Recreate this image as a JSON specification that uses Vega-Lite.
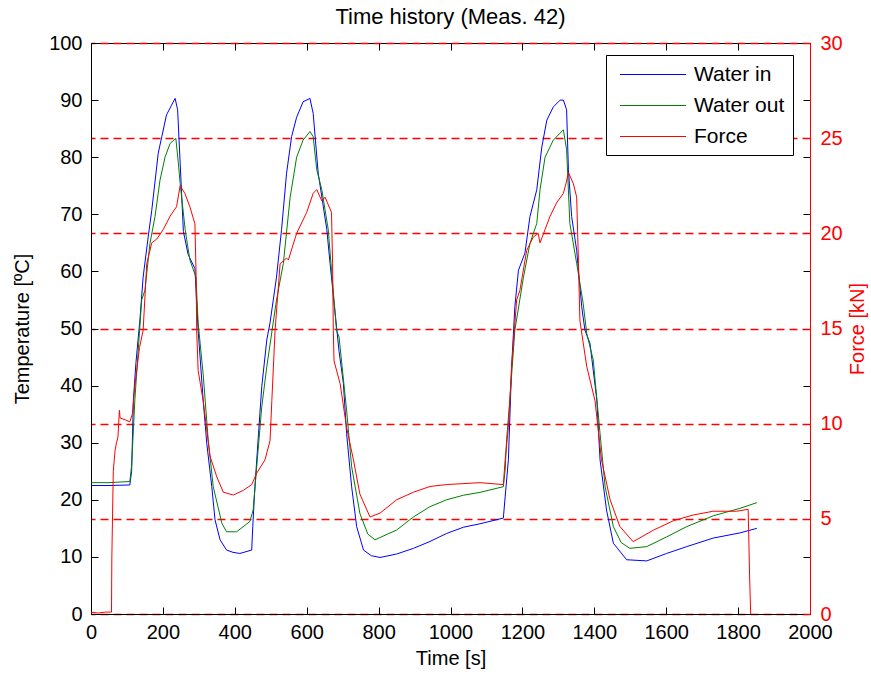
{
  "$schema": "https://vega.github.io/schema/vega-lite/v6.json",
  "width": 719,
  "height": 571,
  "autosize": "none",
  "padding": {"left": 91, "top": 43, "right": 61, "bottom": 61},
  "background": "white",
  "config": {
    "font": "Liberation Sans",
    "view": {"stroke": "black", "strokeWidth": 1},
    "axis": {"labelFont": "Liberation Sans", "titleFont": "Liberation Sans", "titleFontWeight": "normal", "labelFontSize": 20, "titleFontSize": 20, "labelFlush": false, "labelOverlap": false}
  },
  "title": {"text": "Time history (Meas. 42)", "fontSize": 22, "fontWeight": "normal", "font": "Liberation Sans", "color": "black", "frame": "group", "offset": 4},
  "datasets": {
    "temps": [
      {"series":"Water in","t":0,"v":22.5},{"series":"Water in","t":50,"v":22.5},{"series":"Water in","t":108,"v":22.6},{"series":"Water in","t":113,"v":25},{"series":"Water in","t":118,"v":37.5},{"series":"Water in","t":125,"v":44},{"series":"Water in","t":136,"v":51.5},{"series":"Water in","t":145,"v":59},{"series":"Water in","t":159,"v":66},{"series":"Water in","t":169,"v":70.7},{"series":"Water in","t":187,"v":80.7},{"series":"Water in","t":197,"v":83.6},{"series":"Water in","t":210,"v":87.4},{"series":"Water in","t":224,"v":89.1},{"series":"Water in","t":234,"v":90.3},{"series":"Water in","t":241,"v":88.3},{"series":"Water in","t":248,"v":79},{"series":"Water in","t":257,"v":67},{"series":"Water in","t":270,"v":63},{"series":"Water in","t":289,"v":60.5},{"series":"Water in","t":298,"v":49.7},{"series":"Water in","t":312,"v":37.5},{"series":"Water in","t":322,"v":29.9},{"series":"Water in","t":336,"v":22.3},{"series":"Water in","t":345,"v":16.5},{"series":"Water in","t":359,"v":13},{"series":"Water in","t":377,"v":11.2},{"series":"Water in","t":395,"v":10.8},{"series":"Water in","t":414,"v":10.6},{"series":"Water in","t":447,"v":11.2},{"series":"Water in","t":450,"v":15.3},{"series":"Water in","t":456,"v":22.3},{"series":"Water in","t":466,"v":31.6},{"series":"Water in","t":475,"v":39.8},{"series":"Water in","t":489,"v":48},{"series":"Water in","t":498,"v":51},{"series":"Water in","t":507,"v":55},{"series":"Water in","t":516,"v":59},{"series":"Water in","t":530,"v":67.3},{"series":"Water in","t":544,"v":77.2},{"series":"Water in","t":558,"v":83.6},{"series":"Water in","t":572,"v":87},{"series":"Water in","t":590,"v":89.7},{"series":"Water in","t":609,"v":90.3},{"series":"Water in","t":618,"v":87.7},{"series":"Water in","t":632,"v":77.2},{"series":"Water in","t":656,"v":67.3},{"series":"Water in","t":665,"v":61.4},{"series":"Water in","t":679,"v":52.7},{"series":"Water in","t":690,"v":46},{"series":"Water in","t":702,"v":40.4},{"series":"Water in","t":711,"v":31.6},{"series":"Water in","t":725,"v":22.3},{"series":"Water in","t":739,"v":15.3},{"series":"Water in","t":758,"v":11.2},{"series":"Water in","t":780,"v":10.2},{"series":"Water in","t":804,"v":9.9},{"series":"Water in","t":850,"v":10.5},{"series":"Water in","t":897,"v":11.5},{"series":"Water in","t":943,"v":12.7},{"series":"Water in","t":989,"v":14.1},{"series":"Water in","t":1036,"v":15.2},{"series":"Water in","t":1082,"v":15.8},{"series":"Water in","t":1147,"v":16.8},{"series":"Water in","t":1152,"v":20.5},{"series":"Water in","t":1161,"v":27},{"series":"Water in","t":1170,"v":43.3},{"series":"Water in","t":1179,"v":53.8},{"series":"Water in","t":1189,"v":60.2},{"series":"Water in","t":1207,"v":63.2},{"series":"Water in","t":1221,"v":69.6},{"series":"Water in","t":1240,"v":74.3},{"series":"Water in","t":1254,"v":81.8},{"series":"Water in","t":1268,"v":86.5},{"series":"Water in","t":1286,"v":88.8},{"series":"Water in","t":1305,"v":90},{"series":"Water in","t":1314,"v":90},{"series":"Water in","t":1323,"v":88.3},{"series":"Water in","t":1328,"v":77.8},{"series":"Water in","t":1337,"v":69.6},{"series":"Water in","t":1351,"v":63.7},{"series":"Water in","t":1365,"v":53.8},{"series":"Water in","t":1374,"v":49.7},{"series":"Water in","t":1388,"v":47.4},{"series":"Water in","t":1407,"v":37.5},{"series":"Water in","t":1416,"v":27},{"series":"Water in","t":1434,"v":18.2},{"series":"Water in","t":1453,"v":12.4},{"series":"Water in","t":1490,"v":9.5},{"series":"Water in","t":1546,"v":9.3},{"series":"Water in","t":1601,"v":10.6},{"series":"Water in","t":1657,"v":11.8},{"series":"Water in","t":1731,"v":13.3},{"series":"Water in","t":1805,"v":14.2},{"series":"Water in","t":1852,"v":15},
      {"series":"Water out","t":0,"v":23},{"series":"Water out","t":50,"v":23},{"series":"Water out","t":108,"v":23.2},{"series":"Water out","t":113,"v":26},{"series":"Water out","t":122,"v":37.5},{"series":"Water out","t":130,"v":45},{"series":"Water out","t":141,"v":55},{"series":"Water out","t":150,"v":56.7},{"series":"Water out","t":164,"v":64.9},{"series":"Water out","t":178,"v":69.6},{"series":"Water out","t":192,"v":76},{"series":"Water out","t":206,"v":80},{"series":"Water out","t":220,"v":82.4},{"series":"Water out","t":236,"v":83.3},{"series":"Water out","t":243,"v":79},{"series":"Water out","t":248,"v":75.4},{"series":"Water out","t":262,"v":67.3},{"series":"Water out","t":275,"v":62},{"series":"Water out","t":292,"v":59},{"series":"Water out","t":298,"v":51},{"series":"Water out","t":312,"v":42},{"series":"Water out","t":326,"v":30.5},{"series":"Water out","t":340,"v":22.3},{"series":"Water out","t":364,"v":15.9},{"series":"Water out","t":377,"v":14.4},{"series":"Water out","t":405,"v":14.4},{"series":"Water out","t":442,"v":16.2},{"series":"Water out","t":451,"v":18.2},{"series":"Water out","t":461,"v":25.8},{"series":"Water out","t":475,"v":36.3},{"series":"Water out","t":489,"v":43.3},{"series":"Water out","t":516,"v":55},{"series":"Water out","t":535,"v":61.4},{"series":"Water out","t":554,"v":73},{"series":"Water out","t":572,"v":80},{"series":"Water out","t":590,"v":83},{"series":"Water out","t":609,"v":84.5},{"series":"Water out","t":618,"v":83.6},{"series":"Water out","t":628,"v":77.8},{"series":"Water out","t":642,"v":74.3},{"series":"Water out","t":660,"v":67.3},{"series":"Water out","t":669,"v":60.2},{"series":"Water out","t":683,"v":49.7},{"series":"Water out","t":690,"v":48.5},{"series":"Water out","t":711,"v":35.7},{"series":"Water out","t":725,"v":25.8},{"series":"Water out","t":748,"v":17.6},{"series":"Water out","t":770,"v":14},{"series":"Water out","t":790,"v":13},{"series":"Water out","t":850,"v":14.7},{"series":"Water out","t":897,"v":17},{"series":"Water out","t":943,"v":18.8},{"series":"Water out","t":989,"v":20},{"series":"Water out","t":1036,"v":20.8},{"series":"Water out","t":1082,"v":21.3},{"series":"Water out","t":1147,"v":22.3},{"series":"Water out","t":1152,"v":25.2},{"series":"Water out","t":1156,"v":30.5},{"series":"Water out","t":1165,"v":37.5},{"series":"Water out","t":1179,"v":49.7},{"series":"Water out","t":1203,"v":59},{"series":"Water out","t":1221,"v":64.9},{"series":"Water out","t":1240,"v":68.4},{"series":"Water out","t":1249,"v":74.3},{"series":"Water out","t":1263,"v":80},{"series":"Water out","t":1286,"v":83},{"series":"Water out","t":1314,"v":84.8},{"series":"Water out","t":1323,"v":81.3},{"series":"Water out","t":1332,"v":68.4},{"series":"Water out","t":1351,"v":61.4},{"series":"Water out","t":1369,"v":54.4},{"series":"Water out","t":1379,"v":49.1},{"series":"Water out","t":1397,"v":44.5},{"series":"Water out","t":1416,"v":31.6},{"series":"Water out","t":1430,"v":22.3},{"series":"Water out","t":1453,"v":15.3},{"series":"Water out","t":1475,"v":12.5},{"series":"Water out","t":1499,"v":11.5},{"series":"Water out","t":1546,"v":11.8},{"series":"Water out","t":1601,"v":13.5},{"series":"Water out","t":1657,"v":15.3},{"series":"Water out","t":1731,"v":17.2},{"series":"Water out","t":1805,"v":18.5},{"series":"Water out","t":1852,"v":19.5}
    ],
    "force": [
      {"series":"Force","t":0,"v":0.1},{"series":"Force","t":20,"v":0.05},{"series":"Force","t":40,"v":0.1},{"series":"Force","t":57,"v":0.1},{"series":"Force","t":58,"v":3},{"series":"Force","t":62,"v":7.5},{"series":"Force","t":67,"v":8.6},{"series":"Force","t":71,"v":9},{"series":"Force","t":75,"v":9.3},{"series":"Force","t":79,"v":10.7},{"series":"Force","t":81,"v":10.3},{"series":"Force","t":95,"v":10.2},{"series":"Force","t":108,"v":10.1},{"series":"Force","t":115,"v":10.5},{"series":"Force","t":122,"v":12},{"series":"Force","t":135,"v":14},{"series":"Force","t":145,"v":14.9},{"series":"Force","t":155,"v":18.4},{"series":"Force","t":169,"v":19.5},{"series":"Force","t":183,"v":19.7},{"series":"Force","t":201,"v":20.2},{"series":"Force","t":220,"v":20.9},{"series":"Force","t":238,"v":21.4},{"series":"Force","t":248,"v":22.5},{"series":"Force","t":261,"v":22.1},{"series":"Force","t":275,"v":21.4},{"series":"Force","t":289,"v":20.5},{"series":"Force","t":292,"v":18.1},{"series":"Force","t":294,"v":14.9},{"series":"Force","t":298,"v":12.8},{"series":"Force","t":312,"v":11.2},{"series":"Force","t":331,"v":8.3},{"series":"Force","t":350,"v":7.2},{"series":"Force","t":368,"v":6.4},{"series":"Force","t":396,"v":6.25},{"series":"Force","t":424,"v":6.5},{"series":"Force","t":447,"v":6.8},{"series":"Force","t":461,"v":7.4},{"series":"Force","t":484,"v":8.1},{"series":"Force","t":498,"v":9.1},{"series":"Force","t":503,"v":11.2},{"series":"Force","t":512,"v":14.9},{"series":"Force","t":526,"v":18.4},{"series":"Force","t":544,"v":18.7},{"series":"Force","t":549,"v":18.6},{"series":"Force","t":572,"v":20},{"series":"Force","t":600,"v":21.1},{"series":"Force","t":618,"v":22.1},{"series":"Force","t":628,"v":22.3},{"series":"Force","t":642,"v":21.7},{"series":"Force","t":651,"v":21.9},{"series":"Force","t":669,"v":21.1},{"series":"Force","t":672,"v":18.4},{"series":"Force","t":674,"v":14.9},{"series":"Force","t":676,"v":13.3},{"series":"Force","t":693,"v":12.1},{"series":"Force","t":711,"v":9.8},{"series":"Force","t":730,"v":8.1},{"series":"Force","t":748,"v":6.3},{"series":"Force","t":776,"v":5.1},{"series":"Force","t":790,"v":5.2},{"series":"Force","t":804,"v":5.3},{"series":"Force","t":850,"v":6.0},{"series":"Force","t":897,"v":6.4},{"series":"Force","t":943,"v":6.7},{"series":"Force","t":989,"v":6.8},{"series":"Force","t":1082,"v":6.9},{"series":"Force","t":1147,"v":6.8},{"series":"Force","t":1152,"v":8.1},{"series":"Force","t":1161,"v":9.8},{"series":"Force","t":1170,"v":13},{"series":"Force","t":1184,"v":16.5},{"series":"Force","t":1193,"v":17},{"series":"Force","t":1212,"v":19.1},{"series":"Force","t":1230,"v":19.8},{"series":"Force","t":1244,"v":20},{"series":"Force","t":1249,"v":19.5},{"series":"Force","t":1263,"v":20.2},{"series":"Force","t":1277,"v":20.9},{"series":"Force","t":1295,"v":21.6},{"series":"Force","t":1314,"v":22.1},{"series":"Force","t":1321,"v":22.6},{"series":"Force","t":1328,"v":23.2},{"series":"Force","t":1342,"v":22.6},{"series":"Force","t":1351,"v":21.9},{"series":"Force","t":1356,"v":18.4},{"series":"Force","t":1360,"v":15.4},{"series":"Force","t":1379,"v":13},{"series":"Force","t":1402,"v":11.2},{"series":"Force","t":1420,"v":8.1},{"series":"Force","t":1444,"v":6.0},{"series":"Force","t":1471,"v":4.6},{"series":"Force","t":1508,"v":3.8},{"series":"Force","t":1564,"v":4.4},{"series":"Force","t":1620,"v":4.9},{"series":"Force","t":1675,"v":5.2},{"series":"Force","t":1731,"v":5.4},{"series":"Force","t":1796,"v":5.4},{"series":"Force","t":1828,"v":5.5},{"series":"Force","t":1832,"v":2},{"series":"Force","t":1835,"v":0}
    ]
  },
  "layer": [
    {
      "data": {"name": "temps"},
      "mark": {"type": "line", "strokeWidth": 1, "strokeOpacity": 0},
      "encoding": {
        "x": {"field": "t", "type": "quantitative", "scale": {"domain": [0, 2000], "nice": false, "zero": false},
              "axis": {"orient": "top", "title": null, "labels": false, "domain": false, "grid": false, "values": [0,200,400,600,800,1000,1200,1400,1600,1800,2000], "tickSize": -7, "tickColor": "black"}},
        "y": {"field": "v", "type": "quantitative", "scale": {"domain": [0, 100], "nice": false},
              "axis": {"orient": "right", "title": null, "labels": false, "domain": false, "grid": false, "values": [0,10,20,30,40,50,60,70,80,90,100], "tickSize": -7, "tickColor": "black"}},
        "detail": {"field": "series"}
      }
    },
    {
      "data": {"name": "temps"},
      "mark": {"type": "line", "strokeWidth": 1},
      "encoding": {
        "x": {"field": "t", "type": "quantitative", "scale": {"domain": [0, 2000], "nice": false, "zero": false},
              "axis": {"orient": "bottom", "title": "Time [s]", "format": "d", "values": [0,200,400,600,800,1000,1200,1400,1600,1800,2000], "grid": false, "domainColor": "black", "tickColor": "black", "labelColor": "black", "titleColor": "black", "tickSize": -7, "labelPadding": 15, "titlePadding": 6}},
        "y": {"field": "v", "type": "quantitative", "scale": {"domain": [0, 100], "nice": false},
              "axis": {"orient": "left", "title": "Temperature [ºC]", "format": "d", "values": [0,10,20,30,40,50,60,70,80,90,100], "grid": false, "domainColor": "black", "tickColor": "black", "labelColor": "black", "titleColor": "black", "tickSize": -7, "labelPadding": 16, "titlePadding": 16}},
        "color": {"field": "series", "type": "nominal",
                  "scale": {"domain": ["Water in", "Water out", "Force"], "range": ["#0000ff", "#008000", "#ff0000"]},
                  "legend": {"orient": "none", "legendX": 515, "legendY": 12, "title": null, "symbolType": "M-0.5,0H5.5", "symbolSize": 484, "symbolStrokeWidth": 1, "labelFontSize": 21, "labelFont": "Liberation Sans", "labelColor": "black", "labelOffset": 57, "padding": 8, "rowPadding": 9, "strokeColor": "black", "fillColor": "white", "labelLimit": 300}}
      }
    },
    {
      "data": {"name": "force"},
      "mark": {"type": "line", "strokeWidth": 1},
      "encoding": {
        "x": {"field": "t", "type": "quantitative", "scale": {"domain": [0, 2000], "nice": false, "zero": false}, "axis": null},
        "y": {"field": "v", "type": "quantitative", "scale": {"domain": [0, 30], "nice": false},
              "axis": {"orient": "right", "title": "Force [kN]", "titleAngle": 270, "format": "d", "values": [0,5,10,15,20,25,30], "grid": true, "gridColor": "#ff0000", "gridDash": [8, 5], "gridOpacity": 1, "gridWidth": 1.3, "domainColor": "#ff0000", "tickColor": "#ff0000", "labelColor": "#ff0000", "titleColor": "#ff0000", "tickSize": -7, "labelPadding": 17, "titlePadding": 25}},
        "color": {"field": "series", "type": "nominal"}
      }
    }
  ],
  "resolve": {"scale": {"y": "independent"}, "axis": {"x": "independent", "y": "independent"}}
}
